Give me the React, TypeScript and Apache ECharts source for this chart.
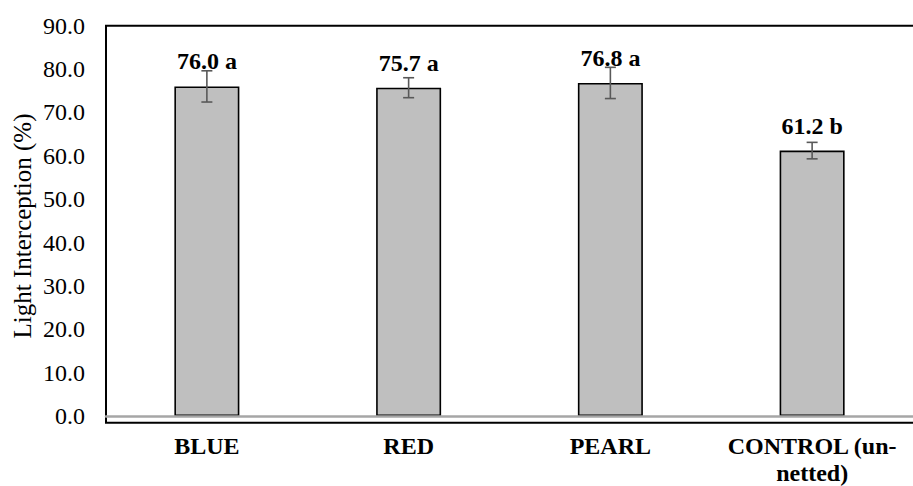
import React, { useEffect, useRef } from "react";
import * as echarts from "echarts";

const categories = ["BLUE", "RED", "PEARL", "CONTROL (un-\nnetted)"];
const values = [76.0, 75.7, 76.8, 61.2];
const errors = [3.6, 2.3, 3.6, 1.9];
const letters = ["a", "a", "a", "b"];
const yTicks = { min: 0, max: 90, interval: 10 };
const yAxisTitle = "Light Interception (%)";

const FONT = "'Liberation Serif', 'Times New Roman', serif";

export default function App() {
  const ref = useRef<HTMLDivElement>(null);
  useEffect(() => {
    document.body.style.margin = "0";
    if (!ref.current) return;
    const chart = echarts.init(ref.current, null, { renderer: "svg" });
    const errData = values.map((v, i) => [i, v - errors[i], v + errors[i]]);
    chart.setOption({
      animation: false,
      backgroundColor: "#ffffff",
      grid: { left: 106, right: -12, top: 25.7, bottom: 65.5, containLabel: false },
      graphic: [
        {
          type: "rect",
          z: 0,
          shape: { x: 106, y: 25.7, width: 840, height: 397.1 },
          style: { fill: "none", stroke: "#000000", lineWidth: 2 },
          silent: true,
        },
        {
          type: "text",
          x: 22,
          y: 226,
          rotation: Math.PI / 2,
          style: {
            text: yAxisTitle,
            fontFamily: FONT,
            fontSize: 25,
            fill: "#000000",
            align: "center",
            verticalAlign: "middle",
          },
          silent: true,
        },
      ],
      xAxis: {
        type: "category",
        data: categories,
        axisLine: { show: true, lineStyle: { color: "#a6a6a6", width: 2.5 } },
        axisTick: { show: false },
        axisLabel: {
          fontFamily: FONT,
          fontSize: 24,
          fontWeight: "bold",
          color: "#000000",
          margin: 16,
          lineHeight: 27,
          interval: 0,
        },
        splitLine: { show: false },
        z: 5,
      },
      yAxis: {
        type: "value",
        min: yTicks.min,
        max: yTicks.max,
        interval: yTicks.interval,
        axisLine: { show: false },
        axisTick: { show: false },
        splitLine: { show: false },
        axisLabel: {
          fontFamily: FONT,
          fontSize: 24,
          color: "#000000",
          margin: 21,
          formatter: (v: number) => v.toFixed(1),
        },
      },
      series: [
        {
          type: "bar",
          data: values,
          barWidth: 65,
          z: 2,
          itemStyle: { color: "#bfbfbf", borderColor: "#000000", borderWidth: 1.6 },
          label: {
            show: true,
            position: "top",
            distance: 13,
            fontFamily: FONT,
            fontSize: 24,
            fontWeight: "bold",
            color: "#000000",
            formatter: (p: any) => `${values[p.dataIndex].toFixed(1)} ${letters[p.dataIndex]}`,
          },
        },
        {
          type: "custom",
          z: 4,
          data: errData,
          encode: { x: 0, y: [1, 2] },
          renderItem: (params: any, api: any) => {
            const i = api.value(0);
            const lo = api.coord([i, api.value(1)]);
            const hi = api.coord([i, api.value(2)]);
            const hw = 5.5;
            const style = { stroke: "#595959", lineWidth: 1.6, fill: "none" };
            return {
              type: "group",
              children: [
                { type: "line", shape: { x1: lo[0], y1: lo[1], x2: hi[0], y2: hi[1] }, style },
                { type: "line", shape: { x1: hi[0] - hw, y1: hi[1], x2: hi[0] + hw, y2: hi[1] }, style },
                { type: "line", shape: { x1: lo[0] - hw, y1: lo[1], x2: lo[0] + hw, y2: lo[1] }, style },
              ],
            };
          },
        },
      ],
    });
    return () => chart.dispose();
  }, []);
  return <div ref={ref} style={{ width: 913, height: 486 }} />;
}
